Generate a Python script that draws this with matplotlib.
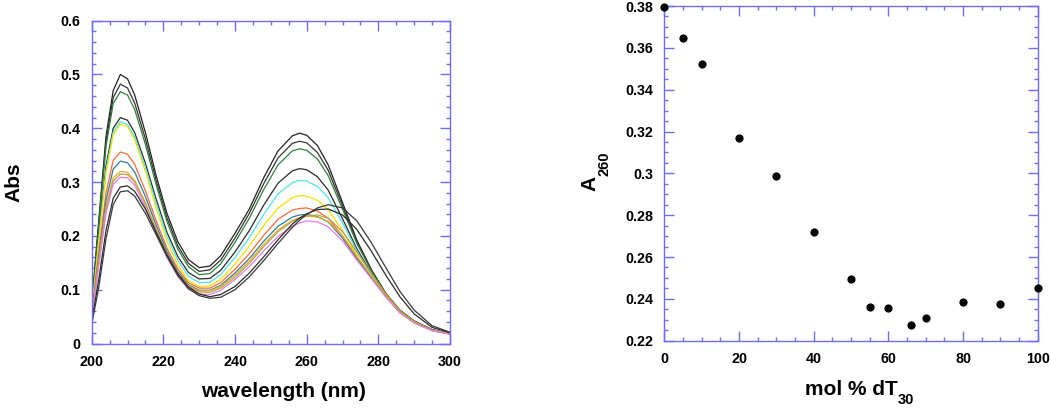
import matplotlib
matplotlib.use("Agg")
import matplotlib.pyplot as plt
from matplotlib.ticker import MultipleLocator, FuncFormatter

plt.rcParams["font.family"] = ["Liberation Sans", "DejaVu Sans"]
plt.rcParams["font.weight"] = "bold"

# Left panel: UV spectra (wavelength in nm, absorbance)
wavelength = [200, 202, 204, 206, 208, 210, 212, 215, 218, 221, 224, 227, 230, 233, 236, 240,
              244, 248, 252, 256, 258, 260, 263, 266, 270, 274, 278, 282, 286, 290, 295, 300]

spec_01 = [0.070, 0.230, 0.385, 0.470, 0.500, 0.492, 0.462, 0.392, 0.312, 0.242, 0.190, 0.156, 0.141, 0.144, 0.163, 0.205,
           0.250, 0.308, 0.358, 0.386, 0.391, 0.387, 0.368, 0.332, 0.262, 0.192, 0.138, 0.094, 0.062, 0.042, 0.026, 0.018]
spec_02 = [0.068, 0.225, 0.375, 0.457, 0.482, 0.475, 0.447, 0.380, 0.303, 0.234, 0.182, 0.149, 0.134, 0.137, 0.155, 0.196,
           0.242, 0.297, 0.345, 0.372, 0.376, 0.373, 0.355, 0.322, 0.256, 0.189, 0.137, 0.093, 0.061, 0.041, 0.025, 0.018]
spec_03 = [0.066, 0.220, 0.366, 0.446, 0.468, 0.462, 0.435, 0.370, 0.295, 0.227, 0.176, 0.143, 0.128, 0.130, 0.148, 0.188,
           0.233, 0.286, 0.332, 0.358, 0.362, 0.359, 0.343, 0.312, 0.250, 0.186, 0.136, 0.093, 0.061, 0.041, 0.025, 0.018]
spec_04 = [0.062, 0.200, 0.330, 0.400, 0.420, 0.415, 0.392, 0.335, 0.268, 0.207, 0.162, 0.132, 0.120, 0.121, 0.136, 0.170,
           0.210, 0.257, 0.298, 0.321, 0.325, 0.323, 0.310, 0.285, 0.232, 0.176, 0.131, 0.091, 0.060, 0.040, 0.025, 0.018]
spec_05 = [0.060, 0.195, 0.322, 0.393, 0.412, 0.407, 0.384, 0.327, 0.260, 0.200, 0.155, 0.125, 0.113, 0.114, 0.128, 0.160,
           0.197, 0.240, 0.278, 0.299, 0.303, 0.302, 0.292, 0.271, 0.224, 0.172, 0.129, 0.090, 0.059, 0.040, 0.025, 0.018]
spec_06 = [0.058, 0.190, 0.316, 0.388, 0.408, 0.403, 0.379, 0.320, 0.252, 0.191, 0.146, 0.117, 0.106, 0.107, 0.119, 0.148,
           0.181, 0.219, 0.252, 0.271, 0.275, 0.274, 0.266, 0.249, 0.210, 0.164, 0.125, 0.088, 0.058, 0.039, 0.024, 0.018]
spec_07 = [0.055, 0.170, 0.280, 0.340, 0.356, 0.352, 0.333, 0.284, 0.228, 0.177, 0.139, 0.113, 0.103, 0.103, 0.113, 0.138,
           0.167, 0.201, 0.231, 0.248, 0.251, 0.252, 0.246, 0.233, 0.200, 0.160, 0.124, 0.088, 0.058, 0.039, 0.024, 0.018]
spec_08 = [0.052, 0.162, 0.266, 0.324, 0.339, 0.336, 0.319, 0.273, 0.220, 0.171, 0.134, 0.109, 0.099, 0.099, 0.108, 0.131,
           0.158, 0.190, 0.218, 0.235, 0.239, 0.240, 0.236, 0.226, 0.196, 0.158, 0.123, 0.088, 0.058, 0.039, 0.024, 0.018]
spec_09 = [0.050, 0.155, 0.254, 0.308, 0.320, 0.318, 0.303, 0.262, 0.212, 0.166, 0.131, 0.107, 0.098, 0.098, 0.106, 0.127,
           0.153, 0.184, 0.211, 0.229, 0.234, 0.237, 0.235, 0.227, 0.200, 0.162, 0.126, 0.090, 0.059, 0.040, 0.024, 0.018]
spec_10 = [0.048, 0.150, 0.248, 0.302, 0.315, 0.314, 0.300, 0.260, 0.211, 0.165, 0.130, 0.106, 0.096, 0.095, 0.103, 0.123,
           0.149, 0.180, 0.208, 0.227, 0.233, 0.237, 0.239, 0.233, 0.208, 0.170, 0.131, 0.093, 0.061, 0.041, 0.025, 0.018]
spec_11 = [0.046, 0.146, 0.242, 0.296, 0.309, 0.308, 0.294, 0.254, 0.205, 0.160, 0.125, 0.101, 0.092, 0.091, 0.099, 0.119,
           0.143, 0.172, 0.199, 0.218, 0.224, 0.228, 0.226, 0.217, 0.191, 0.155, 0.121, 0.087, 0.057, 0.038, 0.024, 0.018]
spec_12 = [0.040, 0.120, 0.210, 0.270, 0.291, 0.293, 0.283, 0.250, 0.207, 0.165, 0.130, 0.105, 0.092, 0.087, 0.091, 0.106,
           0.131, 0.161, 0.193, 0.222, 0.233, 0.241, 0.249, 0.250, 0.239, 0.212, 0.172, 0.128, 0.087, 0.055, 0.030, 0.020]
spec_13 = [0.035, 0.105, 0.195, 0.258, 0.282, 0.284, 0.274, 0.242, 0.202, 0.162, 0.127, 0.102, 0.089, 0.084, 0.086, 0.100,
           0.124, 0.154, 0.186, 0.216, 0.229, 0.240, 0.252, 0.258, 0.252, 0.228, 0.188, 0.142, 0.097, 0.062, 0.033, 0.021]

spectra = [spec_01, spec_02, spec_03, spec_04, spec_05, spec_06, spec_07,
           spec_08, spec_09, spec_10, spec_11, spec_12, spec_13]
spec_colors = ["#222222", "#333333", "#2f7f3a", "#2a2a2a", "#4fe3f0", "#f5e100", "#ff6a35",
               "#2f7c9c", "#e0b12a", "#b8a04a", "#e27de6", "#2b2b2b", "#3a3a3a"]

# Right panel: A260 vs mol % dT30
mol_pct = [0, 5, 10, 20, 30, 40, 50, 55, 60, 66, 70, 80, 90, 100]
a260 = [0.3794, 0.3649, 0.3523, 0.3168, 0.2989, 0.2721, 0.2495, 0.2363, 0.2355, 0.2273, 0.2310, 0.2385, 0.2375, 0.2452]

axis_blue = "#6e6ef5"

fig = plt.figure(figsize=(10.5, 4.09), dpi=100)
ax1 = fig.add_axes([0.0873, 0.1601, 0.3413, 0.7893])
ax2 = fig.add_axes([0.6327, 0.1670, 0.3556, 0.8183])


def style_axes(ax):
    for sp in ax.spines.values():
        sp.set_color(axis_blue)
        sp.set_linewidth(1.0)
    ax.tick_params(which="both", direction="in", top=True, right=True,
                   color=axis_blue, labelsize=10.3, pad=8)
    ax.tick_params(which="major", length=7, width=1.0)
    ax.tick_params(which="minor", length=3, width=1.0)
    for lab in ax.get_xticklabels() + ax.get_yticklabels():
        lab.set_fontweight("bold")


def fmt_g(v, pos):
    v = round(v, 3)
    return f"{v:g}" if abs(v) > 1e-12 else "0"


# spectra
for spec, col in zip(spectra, spec_colors):
    ax1.plot(wavelength, spec, color=col, linewidth=0.9)
ax1.set_xlim(200, 300)
ax1.set_ylim(0, 0.6)
ax1.xaxis.set_major_locator(MultipleLocator(20))
ax1.xaxis.set_minor_locator(MultipleLocator(5))
ax1.yaxis.set_major_locator(MultipleLocator(0.1))
ax1.yaxis.set_minor_locator(MultipleLocator(0.02))
ax1.yaxis.set_major_formatter(FuncFormatter(fmt_g))
style_axes(ax1)
ax1.set_xlabel("wavelength (nm)", fontsize=15, fontweight="bold")
ax1.set_ylabel("Abs", fontsize=15, fontweight="bold")
ax1.xaxis.set_label_coords(0.534, -0.118)
ax1.yaxis.set_label_coords(-0.19, 0.5)

# A260 titration
ax2.scatter(mol_pct, a260, s=24, color="black", zorder=3, clip_on=False)
ax2.set_xlim(0, 100)
ax2.set_ylim(0.22, 0.38)
ax2.xaxis.set_major_locator(MultipleLocator(20))
ax2.xaxis.set_minor_locator(MultipleLocator(5))
ax2.yaxis.set_major_locator(MultipleLocator(0.02))
ax2.yaxis.set_minor_locator(MultipleLocator(0.005))
ax2.yaxis.set_major_formatter(FuncFormatter(fmt_g))
style_axes(ax2)

# x label with a deep subscript, as in the original
xl = ax2.set_xlabel("mol % dT", fontsize=15, fontweight="bold")
ax2.xaxis.set_label_coords(0.50, -0.118)
ax2.annotate("30", xy=(1.0, 0.3), xycoords=xl, ha="left", va="top",
             fontsize=10.5, fontweight="bold")

yl = ax2.set_ylabel("A", fontsize=15, fontweight="bold")
ax2.yaxis.set_label_coords(-0.175, 0.47)
ax2.annotate("260", xy=(0.92, 1.0), xycoords=yl, ha="left", va="bottom",
             rotation=90, fontsize=10.5, fontweight="bold")

fig.savefig("out.png", dpi=100)
